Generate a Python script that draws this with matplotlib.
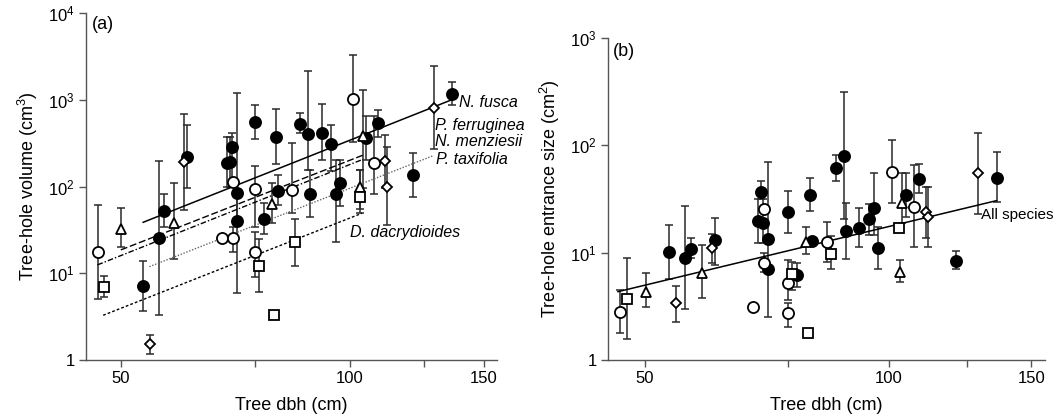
import numpy as np
import matplotlib
matplotlib.use("Agg")
import matplotlib.pyplot as plt
from matplotlib.ticker import FixedLocator, FixedFormatter, NullFormatter

plt.rcParams['font.family'] = ['Liberation Sans', 'DejaVu Sans']
plt.rcParams['mathtext.default'] = 'regular'

nan = np.nan

# --- data: (mean, lower, upper); nan = no error bar ---
# N. fusca (filled circles)
fusca_dbh = [53.5, 56.1, 57.0, 61.1, 69.0, 69.6, 70.0, 71.0, 71.0, 75.0, 77.0, 80.0,
             80.5, 86.0, 88.1, 88.6, 92.0, 94.5, 96.0, 97.0, 105.0, 109.0, 121.0, 136.0]
fusca_vol = [(7.2, 3.7, 14), (25.3, 3.3, 199), (52.3, 34, 81.5), (221, 96, 514),
             (186, 100, 370), (194, 100, 370), (289, 100, 412), (83.7, 40, 1192),
             (39.8, 5.9, 83.7), (556, 357, 865), (42.3, 28, 65), (377, 182, 785),
             (89.7, 61, 136), (523, 412, 700), (401, 155, 2155), (81.5, 45, 155),
             (419, 203, 889), (310, 149, 505), (81.5, 23.1, 203), (109, 60, 203),
             (361, 203, 657), (537, 377, 765), (136, 75, 242), (1170, 873, 1622)]
fusca_ent = [(10.2, 5.69, 18.2), (8.98, 2.97, 27.4), (10.8, 8.87, 13.6), (13.1, 7.68, 20.9),
             (19.7, 12.4, 31.5), (37.0, 31.5, 46.6), (18.8, 12.4, 31.5), (13.3, 2.53, 69.6),
             (7.05, nan, nan), (23.8, 15.1, 37.8), (6.2, 4.75, 8.07), (34.5, 24.3, 50),
             (12.9, nan, nan), (61.2, 46.9, 81.4), (80.2, 20.5, 313), (15.9, 8.73, 28.8),
             (17.1, 11.2, 26.2), (20.5, 14.6, 28.2), (26.3, 14.6, 55.7), (11.1, 7.0, 17.5),
             (34.7, 21.6, 55.7), (48.3, 35.8, 66.4), (8.42, 7.05, 10.4), (50.0, 29.8, 87.3)]

# N. menziesii (open circles)
menz_dbh = [46.6, 68.0, 70.1, 70.1, 75.0, 75.0, 84.0, 101.0, 107.6]
menz_vol = [(17.5, 5.1, 60.9), (25.7, nan, nan), (25.3, 17.7, 34.5), (114, nan, nan),
            (93, 34.5, 173), (17.5, 9.1, 30), (91.4, 50, 316), (1024, 330, 3296),
            (186, 82, 652)]
menz_ent = [(2.82, 1.77, 4.49), (3.14, nan, nan), (8.07, 6.6, 10.0), (25.7, nan, nan),
            (5.25, 3.62, 8.55), (2.72, 2.04, 3.38), (12.7, 8.24, 19.5), (56.9, 29.2, 111),
            (26.8, 11.4, 64.9)]

# P. ferruginea (triangles)
ferr_dbh = [50.1, 58.8, 79.0, 103.2, 103.9]
ferr_vol = [(32.4, 20, 56), (38.4, 14.5, 111), (62.5, 37.7, 109), (99.7, 55, 155),
            (383, 96, 1300)]
ferr_ent = [(4.33, 3.1, 6.43), (6.51, 3.76, 11.7), (12.5, 9.73, 17.2), (6.56, 5.3, 8.55),
            (28.9, 18.8, 55.7)]

# P. taxifolia (diamonds)
taxi_dbh = [54.6, 60.5, 111.1, 112.0, 128.8]
taxi_vol = [(1.52, 1.17, 1.93), (192, 53.7, 688), (197, 96, 394), (99.7, 36, 284),
            (813, 269, 2460)]
taxi_ent = [(3.38, 2.27, 4.92), (11.1, 8.07, 14.8), (23.9, 13.8, 41.2), (21.7, 11.2, 40.7),
            (55, 22.8, 130)]

# D. dacrydioides (squares)
dacr_dbh = [47.5, 75.9, 79.5, 84.8, 103.0]
dacr_vol = [(7.0, 5.3, 9.3), (12.2, 6.1, 24.9), (3.3, nan, nan), (22.8, 12.1, 42),
            (76.4, 49, 155)]
dacr_ent = [(3.73, 1.58, 8.87), (6.33, 4.49, 8.2), (1.77, nan, nan), (9.73, 7.0, 14.3),
            (17.0, 15.5, 18.5)]

# power-law fits: (exponent, log10 coefficient, dbh from, dbh to)
fit_fusca = (3.485, -4.436, 53.5, 136.0)
fit_ferr = (3.434, -4.565, 50.0, 104.0)
fit_menz = (3.490, -4.726, 46.6, 104.0)
fit_taxi = (3.431, -4.882, 54.5, 128.7)
fit_dacr = (3.459, -5.281, 47.4, 103.7)
fit_all = (1.813, -2.383, 46.3, 135.9)

x_ticks = [50, 75, 100, 125, 150]
x_ticklabels = ['50', '', '100', '', '150']

# --- styles ---
sp_styles = [
    (fusca_dbh, fusca_vol, fusca_ent, dict(marker='o', mfc='black', ms=8)),
    (menz_dbh, menz_vol, menz_ent, dict(marker='o', mfc='white', ms=8)),
    (ferr_dbh, ferr_vol, ferr_ent, dict(marker='^', mfc='white', ms=7)),
    (taxi_dbh, taxi_vol, taxi_ent, dict(marker='D', mfc='white', ms=5)),
    (dacr_dbh, dacr_vol, dacr_ent, dict(marker='s', mfc='white', ms=7)),
]

fig = plt.figure(figsize=(10.64, 4.17), dpi=100)
axA = fig.add_axes([0.0808, 0.1367, 0.3863, 0.8321])
axB = fig.add_axes([0.5714, 0.1367, 0.4107, 0.7722])

ebar_col = '#2a2a2a'


def draw_species(ax, dbh, vals, st):
    x = np.array(dbh)
    v = np.array(vals, dtype=float)
    y, lo, hi = v[:, 0], v[:, 1], v[:, 2]
    ok = ~np.isnan(lo)
    ax.errorbar(x[ok], y[ok], yerr=[y[ok] - lo[ok], hi[ok] - y[ok]], fmt='none',
                ecolor=ebar_col, elinewidth=1.1, capsize=3.2, capthick=1.1, zorder=2)
    ax.plot(x, y, ls='none', mec='black', mew=1.3, zorder=3, **st)


def draw_fit(ax, fit, **kw):
    b, loga, x0, x1 = fit
    xs = np.array([x0, x1])
    ax.plot(xs, 10 ** loga * xs ** b, zorder=2.5, **kw)


for ax in (axA, axB):
    ax.set_xscale('log')
    ax.set_yscale('log')
    ax.set_xlim(45, 156)
    for s in ('top', 'right'):
        ax.spines[s].set_visible(False)
    for s in ('left', 'bottom'):
        ax.spines[s].set_color('#555555')
        ax.spines[s].set_linewidth(1.0)
    ax.xaxis.set_major_locator(FixedLocator(x_ticks))
    ax.xaxis.set_major_formatter(FixedFormatter(x_ticklabels))
    ax.xaxis.set_minor_locator(FixedLocator([]))
    ax.xaxis.set_minor_formatter(NullFormatter())
    ax.yaxis.set_minor_locator(FixedLocator([]))
    ax.tick_params(axis='both', which='major', direction='out', length=5, width=1.0,
                   color='#555555', labelsize=12, pad=3)
    ax.set_xlabel('Tree dbh (cm)', fontsize=13, labelpad=8)

for dbh, vol, ent, st in sp_styles:
    draw_species(axA, dbh, vol, st)
    draw_species(axB, dbh, ent, st)

# panel (a)
axA.set_ylim(1, 1e4)
axA.yaxis.set_major_locator(FixedLocator([1, 10, 100, 1000, 10000]))
axA.yaxis.set_major_formatter(FixedFormatter(['1', '$10^1$', '$10^2$', '$10^3$', '$10^4$']))
axA.set_ylabel('Tree-hole volume (cm$^3$)', fontsize=13, labelpad=6)
draw_fit(axA, fit_fusca, color='black', lw=1.1, ls='-')
draw_fit(axA, fit_ferr, color='black', lw=1.0, ls=(0, (5, 2)))
draw_fit(axA, fit_menz, color='black', lw=1.0, ls=(0, (4, 1.5, 1, 1.5)))
draw_fit(axA, fit_taxi, color='#666666', lw=1.0, ls=(0, (1, 1.2)))
draw_fit(axA, fit_dacr, color='black', lw=1.0, ls=(0, (2, 1.5)))
lab_kw = dict(fontsize=11.5, style='italic', ha='left', va='center')
axA.text(138.9, 921, 'N. fusca', **lab_kw)
axA.text(129.5, 500, 'P. ferruginea', **lab_kw)
axA.text(129.5, 327, 'N. menziesii', **lab_kw)
axA.text(129.8, 203, 'P. taxifolia', **lab_kw)
axA.text(100, 29.2, 'D. dacrydioides', **lab_kw)
axA.text(0.015, 0.99, '(a)', transform=axA.transAxes, fontsize=13, ha='left', va='top')

# panel (b)
axB.set_ylim(1, 1e3)
axB.yaxis.set_major_locator(FixedLocator([1, 10, 100, 1000]))
axB.yaxis.set_major_formatter(FixedFormatter(['1', '$10^1$', '$10^2$', '$10^3$']))
axB.set_ylabel('Tree-hole entrance size (cm$^2$)', fontsize=13, labelpad=6)
draw_fit(axB, fit_all, color='black', lw=1.1, ls='-')
axB.text(130.2, 22.5, 'All species', fontsize=11, ha='left', va='center')
axB.text(0.011, 0.985, '(b)', transform=axB.transAxes, fontsize=13, ha='left', va='top')

fig.savefig('out.png', dpi=100)
